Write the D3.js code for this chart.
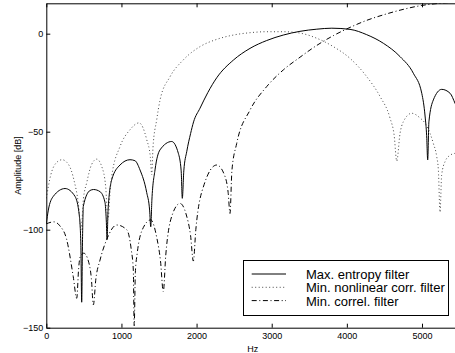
<!DOCTYPE html>
<html>
<head>
<meta charset="utf-8">
<script src="https://cdn.jsdelivr.net/npm/d3@7"></script>
<style>
  body { margin: 0; background: #fff; }
  svg { display: block; font-family: "Liberation Sans", Arial, sans-serif; }
</style>
</head>
<body>
<svg id="chart" width="455" height="353"></svg>
<script>
// [Hz, dB]
var maxEntropy = [
  [0,-97],[27,-90],[93,-83],[250,-79],[382,-83],[440,-93],[460,-108],[471,-137],[482,-105],[493,-88],
  [582,-80],[630,-79.5],[715,-80.6],[781,-86],[798,-95],[809,-105],[822,-90],[870,-74.6],[981,-67],
  [1114,-64.3],[1180,-64.8],[1247,-69.5],[1336,-81],[1375,-90],[1390,-98.5],[1405,-85],[1447,-69.5],
  [1513,-59.3],[1669,-55],[1757,-61],[1795,-70],[1810,-84],[1830,-70],[1870,-60],[1920,-51],
  [1960,-45],[2046,-38],[2150,-30],[2268,-22.5],[2489,-13.5],[2711,-7.5],[2933,-3.5],[3154,-0.7],
  [3376,1.2],[3600,2.3],[3800,2.8],[4042,2.2],[4264,-0.5],[4486,-4.9],[4708,-11.7],[4885,-20.2],
  [4997,-30.4],[5041,-42],[5062,-52],[5076,-64.4],[5092,-45],[5151,-33.8],[5263,-28.4],[5374,-30.4],
  [5440,-35.5],[5512,-42]
];
var minNonlinear = [
  [0,-84],[60,-72],[130,-66],[210,-64.3],[300,-67],[370,-75],[426,-86.5],[462,-100],[495,-84],
  [538,-76],[600,-67],[671,-64],[740,-68],[790,-78],[821,-95],[850,-80],[870,-73],[981,-57.6],
  [1114,-49],[1234,-45.5],[1336,-54],[1385,-63],[1403,-72],[1420,-58],[1469,-44],[1513,-34],
  [1646,-22],[1823,-13.4],[2046,-6.6],[2268,-2.9],[2489,-0.7],[2711,0.5],[2930,1],[3154,1],
  [3376,0.3],[3598,-2.3],[3820,-6.6],[4042,-12.6],[4264,-21.9],[4441,-32],[4574,-43],[4630,-52],
  [4664,-65],[4708,-50.8],[4752,-44.9],[4863,-40.6],[4974,-43],[5041,-45.7],[5107,-50.8],
  [5151,-56],[5196,-62.7],[5218,-69.5],[5240,-91],[5262,-72],[5310,-65],[5374,-62],[5440,-61],
  [5512,-60]
];
var minCorrel = [
  [0,-97],[100,-96],[180,-98],[271,-105],[359,-124],[405,-135],[430,-120],[449,-114],[500,-112],
  [560,-116],[600,-125],[626,-138.4],[660,-125],[715,-115.5],[804,-105],[937,-97.6],[1070,-100],
  [1130,-110],[1158,-120.6],[1170,-149],[1185,-122],[1210,-112],[1290,-99],[1390,-95],[1470,-104],
  [1520,-116],[1557,-131.6],[1590,-113],[1680,-92],[1780,-86.6],[1860,-92],[1920,-103],
  [1957,-116],[1990,-100],[2100,-77],[2268,-67],[2370,-72],[2420,-81],[2445,-91.7],[2470,-70],
  [2534,-56],[2711,-39],[2933,-27],[3154,-18.5],[3377,-12],[3466,-9.5],[3599,-6],[3820,-1],
  [4042,3.2],[4264,6.8],[4486,9.6],[4708,12],[4997,14.4],[5240,15.5],[5512,16.2]
];
var xTicks = [0, 1000, 2000, 3000, 4000, 5000];
var yTicks = [-150, -100, -50, 0];
var legendLabels = ["Max. entropy filter", "Min. nonlinear corr. filter", "Min. correl. filter"];

var svg = d3.select("#chart");
var mLeft = 46.3, mRight = 460.5, mTop = 3.3, mBottom = 327.7;

var x = d3.scaleLinear().domain([0, 5512.5]).range([mLeft, mRight]);
var y = d3.scaleLinear().domain([-150, 15.5]).range([mBottom, mTop]);

svg.append("clipPath").attr("id", "clip")
  .append("rect").attr("x", mLeft).attr("y", mTop)
  .attr("width", mRight - mLeft).attr("height", mBottom - mTop);

var line = d3.line()
  .x(function(d) { return x(d[0]); })
  .y(function(d) { return y(d[1]); })
  .curve(d3.curveMonotoneX);

var series = [
  { data: maxEntropy, dash: null, color: "#000", width: 1 },
  { data: minNonlinear, dash: "1,2.5", color: "#333", width: 0.9 },
  { data: minCorrel, dash: "5,2.6,1,2.6", color: "#000", width: 1 }
];

var plot = svg.append("g").attr("clip-path", "url(#clip)");
series.forEach(function(s) {
  plot.append("path")
    .datum(s.data)
    .attr("fill", "none")
    .attr("stroke", s.color)
    .attr("stroke-width", s.width)
    .attr("stroke-dasharray", s.dash)
    .attr("d", line);
});

// axes, ticks inside
var fmt = d3.format("d");
svg.append("g").attr("transform", "translate(0," + mBottom + ")")
  .call(d3.axisBottom(x).tickValues(xTicks).tickFormat(fmt).tickSize(-4).tickSizeOuter(0).tickPadding(5));
svg.append("g").attr("transform", "translate(0," + mTop + ")")
  .call(d3.axisTop(x).tickValues(xTicks).tickFormat("").tickSize(-4).tickSizeOuter(0));
svg.append("g").attr("transform", "translate(" + mLeft + ",0)")
  .call(d3.axisLeft(y).tickValues(yTicks).tickFormat(fmt).tickSize(-4).tickSizeOuter(0).tickPadding(3));

svg.selectAll(".domain").attr("stroke", "#000").attr("stroke-width", 1);
svg.selectAll(".tick line").attr("stroke", "#000");
svg.selectAll(".tick text").attr("font-size", 9).attr("font-family", "Liberation Sans, Arial, sans-serif").attr("fill", "#000");

svg.append("text")
  .attr("x", (mLeft + 459) / 2).attr("y", 351.5)
  .attr("text-anchor", "middle").attr("font-size", 9)
  .text("Hz");

svg.append("text")
  .attr("transform", "translate(20.5," + ((mTop + mBottom) / 2) + ") rotate(-90)")
  .attr("text-anchor", "middle").attr("font-size", 9)
  .text("Amplitude [dB]");

// legend
var lg = svg.append("g");
lg.append("rect").attr("x", 243.5).attr("y", 260.5).attr("width", 205).attr("height", 55)
  .attr("fill", "#fff").attr("stroke", "#000").attr("stroke-width", 1);
legendLabels.forEach(function(label, i) {
  var yy = 274 + i * 13.3;
  var s = series[i];
  lg.append("line").attr("x1", 251.7).attr("x2", 286).attr("y1", yy).attr("y2", yy)
    .attr("stroke", s.color).attr("stroke-width", s.width).attr("stroke-dasharray", s.dash);
  lg.append("text").attr("x", 306).attr("y", yy + 5).attr("font-size", 13).text(label);
});
</script>
</body>
</html>
